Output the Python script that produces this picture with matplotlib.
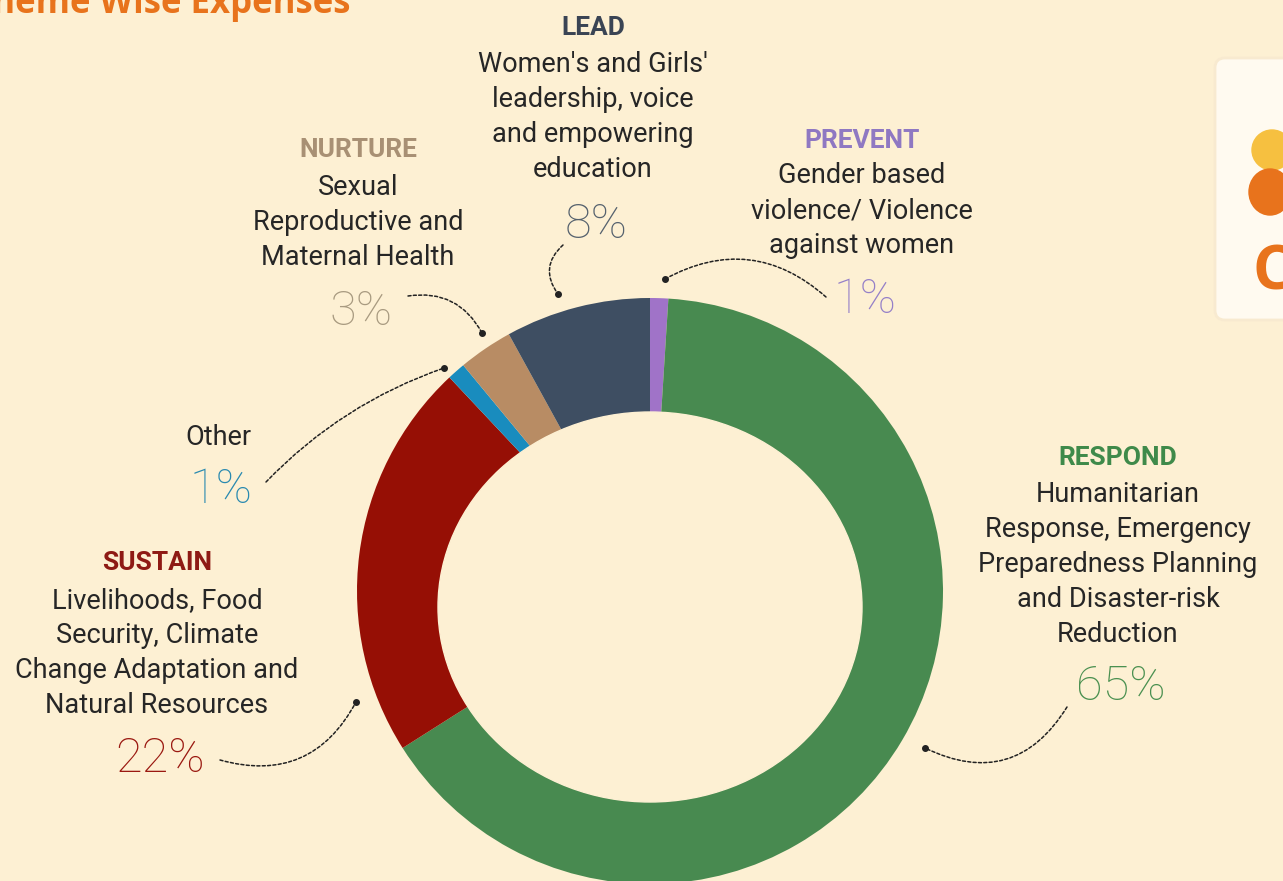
import matplotlib
matplotlib.use("Agg")
import matplotlib.pyplot as plt
from matplotlib.patches import Ellipse, FancyBboxPatch

# theme shares, clockwise from 12 o'clock
themes = ["PREVENT", "RESPOND", "SUSTAIN", "Other", "NURTURE", "LEAD"]
shares = [1, 65, 22, 1, 3, 8]
colors = ["#a073c8", "#488a50", "#960f05", "#198cbe", "#b88c64", "#3e4e62"]

descriptions = {
    "LEAD": ["Women's and Girls'", "leadership, voice", "and empowering", "education"],
    "NURTURE": ["Sexual", "Reproductive and", "Maternal Health"],
    "PREVENT": ["Gender based", "violence/ Violence", "against women"],
    "Other": [],
    "SUSTAIN": ["Livelihoods, Food", "Security, Climate", "Change Adaptation and", "Natural Resources"],
    "RESPOND": ["Humanitarian", "Response, Emergency", "Preparedness Planning",
                "and Disaster-risk", "Reduction"],
}
head_colors = {"LEAD": "#3a4454", "NURTURE": "#a89074", "PREVENT": "#8f78c2",
               "Other": "#222222", "SUSTAIN": "#8e1a14", "RESPOND": "#3f8a4a"}
pct_colors = {"LEAD": "#56626e", "NURTURE": "#a89a80", "PREVENT": "#9580c8",
              "Other": "#2a8ab0", "SUSTAIN": "#9a1810", "RESPOND": "#4a9050"}

BG = "#fdf0d3"
W, H = 1283, 881
fig = plt.figure(figsize=(W / 100, H / 100), dpi=100, facecolor=BG)

# donut
cx, cy, R = 650, 591, 293
pax = fig.add_axes([(cx - R) / W, (H - cy - R) / H, 2 * R / W, 2 * R / H])
pax.set_facecolor("none")
pax.pie(shares, colors=colors, startangle=90, counterclock=False, radius=1,
        wedgeprops=dict(linewidth=0))
# hole sits a bit low in the original artwork
pax.add_patch(Ellipse((0, (cy - 607) / R), 424 / R, 390 / R, color=BG, zorder=5))
pax.set_xlim(-1, 1)
pax.set_ylim(-1, 1)
pax.axis("off")

# text layer in pixel coordinates
ax = fig.add_axes([0, 0, 1, 1], zorder=3)
ax.set_xlim(0, W)
ax.set_ylim(H, 0)
ax.axis("off")
ax.patch.set_alpha(0)

ax.text(350, 13, "Theme Wise Expenses", ha="right", va="baseline", fontsize=25,
        fontweight="bold", color="#e8731c", family="Open Sans")

# label blocks: x centre, header baseline, first line baseline, pct baseline
layout = {
    "LEAD": (593, 35, 72, 238),
    "NURTURE": (358, 157, 195, 325),
    "PREVENT": (862, 148, 183, 313),
    "Other": (218, 445, 445, 503),
    "SUSTAIN": (157, 570, 608, 772),
    "RESPOND": (1118, 465, 502, 700),
}
pitch = 35
for name, share in zip(themes, shares):
    x, yh, y0, yp = layout[name]
    if name == "Other":
        ax.text(x, yh, name, ha="center", va="baseline", fontsize=19.5,
                family="Roboto", color="#262626")
    else:
        ax.text(x, yh, name, ha="center", va="baseline", fontsize=19,
                family="Roboto", fontweight="bold", color=head_colors[name])
    for i, line in enumerate(descriptions[name]):
        ax.text(x, y0 + i * pitch, line, ha="center", va="baseline", fontsize=19.5,
                family="Roboto", color="#262626")
    ax.text(x + 3, yp, f"{share}%", ha="center", va="baseline", fontsize=35,
            family="Roboto", fontweight="light", color=pct_colors[name])

# dotted leader lines
leaders = [
    ((563, 245), (558, 294), 0.45),
    ((408, 296), (482, 333), -0.35),
    ((826, 297), (665, 279), 0.35),
    ((266, 482), (444, 368), -0.12),
    ((220, 760), (356, 702), 0.4),
    ((1067, 707), (925, 748), -0.45),
]
for start, end, rad in leaders:
    ax.annotate("", xy=end, xytext=start,
                arrowprops=dict(arrowstyle="-", lw=1.1, color="#222222",
                                linestyle=(0, (2, 1.5)),
                                connectionstyle=f"arc3,rad={rad}",
                                shrinkA=0, shrinkB=0))
    ax.plot(*end, marker="o", ms=4, color="#222222")

# logo corner
ax.add_patch(FancyBboxPatch((1215, 58), 90, 262, boxstyle="round,pad=0,rounding_size=10",
                            facecolor="#fffaf0", edgecolor="#f8ead0", lw=2))
ax.add_patch(Ellipse((1272, 150), 40, 40, color="#f6c040"))
ax.add_patch(Ellipse((1270, 192), 42, 46, color="#e8731c"))
ax.text(1252, 290, "C", ha="left", va="baseline", fontsize=44, fontweight="bold",
        color="#e8731c", family="Open Sans")

fig.savefig("out.png", dpi=100, facecolor=BG)
